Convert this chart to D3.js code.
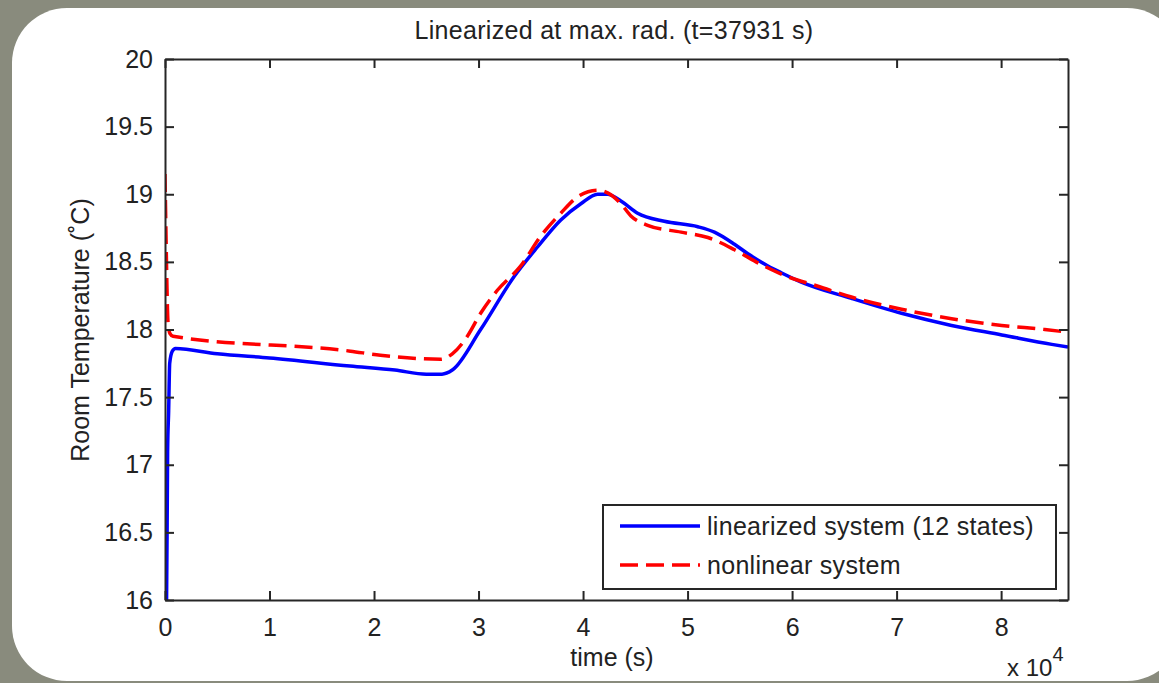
<!DOCTYPE html>
<html>
<head>
<meta charset="utf-8">
<script src="https://cdn.jsdelivr.net/npm/d3@7"></script>
<style>
  body { margin: 0; background: #898b7d; }
  svg { display: block; }
  text { font-family: "Liberation Sans", Arial, sans-serif; fill: #222; }
</style>
</head>
<body>
<svg id="chart"></svg>
<script>
// time (s) / temperature (degC)
const linTime = [0, 150, 250, 350, 450, 700, 1000, 5000, 10000, 17700, 22000, 25000, 26500, 27490, 30200, 33390, 35640, 37870, 39790, 41390, 42350, 43620, 45220, 47780, 50980, 52570, 54490, 55770, 57690, 58960, 60880, 65680, 70470, 75260, 80060, 84850, 86400];
const linTemp = [16.0, 16.0, 17.1, 17.4, 17.75, 17.84, 17.86, 17.82, 17.79, 17.73, 17.70, 17.67, 17.67, 17.70, 18.00, 18.39, 18.61, 18.81, 18.93, 19.00, 19.00, 18.95, 18.86, 18.80, 18.76, 18.72, 18.63, 18.56, 18.47, 18.42, 18.35, 18.23, 18.12, 18.03, 17.96, 17.89, 17.87];

const nlTime = [0, 96, 192, 290, 480, 770, 17740, 20610, 26370, 27490, 28930, 30200, 31800, 34040, 35950, 37870, 39470, 41390, 42350, 43620, 44580, 46180, 49380, 51940, 54490, 57050, 59610, 62480, 65680, 70470, 75260, 80060, 84180, 86400];
const nlTemp = [19.15, 18.7, 18.3, 18.05, 17.97, 17.95, 17.84, 17.81, 17.78, 17.82, 17.95, 18.12, 18.29, 18.47, 18.69, 18.86, 18.98, 19.03, 19.01, 18.93, 18.84, 18.77, 18.72, 18.68, 18.59, 18.48, 18.39, 18.32, 18.24, 18.15, 18.08, 18.03, 18.00, 17.98];

const xTicks = [0, 10000, 20000, 30000, 40000, 50000, 60000, 70000, 80000];
const yTicks = [16, 16.5, 17, 17.5, 18, 18.5, 19, 19.5, 20];
const seriesNames = ["linearized system (12 states)", "nonlinear system"];

const width = 1159;
const height = 683;
const marginLeft = 165;
const marginRight = 91;
const marginTop = 59;
const marginBottom = 83;
const axisColor = "#262626";

const svg = d3.select("#chart")
    .attr("width", width)
    .attr("height", height);

// white card
svg.append("rect")
    .attr("x", 12).attr("y", 8)
    .attr("width", 1170).attr("height", 673)
    .attr("rx", 55).attr("ry", 55)
    .attr("fill", "#fff");

const x = d3.scaleLinear()
    .domain([0, 86400])
    .range([marginLeft, width - marginRight]);

const y = d3.scaleLinear()
    .domain([16, 20])
    .range([height - marginBottom, marginTop]);

svg.append("defs").append("clipPath").attr("id", "clip")
  .append("rect")
    .attr("x", marginLeft).attr("y", marginTop)
    .attr("width", width - marginLeft - marginRight)
    .attr("height", height - marginTop - marginBottom);

const line = d3.line()
    .x(d => x(d[0]))
    .y(d => y(d[1]))
    .curve(d3.curveMonotoneX);

const linData = d3.zip(linTime, linTemp);
const nlData = d3.zip(nlTime, nlTemp);

const plot = svg.append("g").attr("clip-path", "url(#clip)");

plot.append("path")
    .datum(linData)
    .attr("fill", "none")
    .attr("stroke", "#0000ff")
    .attr("stroke-width", 3.5)
    .attr("d", line);

plot.append("path")
    .datum(nlData)
    .attr("fill", "none")
    .attr("stroke", "#ff0000")
    .attr("stroke-width", 3.5)
    .attr("stroke-dasharray", "18,8")
    .attr("d", line);

// axes, ticks pointing inward, box on all four sides
const tickLen = 9;
const fmtX = d => d / 10000;

function styleAxis(g) {
    g.selectAll(".domain").attr("stroke", axisColor).attr("stroke-width", 2);
    g.selectAll(".tick line").attr("stroke", axisColor).attr("stroke-width", 2);
    g.selectAll(".tick text").attr("font-size", 25).attr("fill", "#222");
}

svg.append("g")
    .attr("transform", `translate(0,${height - marginBottom})`)
    .call(d3.axisBottom(x).tickValues(xTicks).tickFormat(fmtX)
        .tickSizeInner(-tickLen).tickSizeOuter(0).tickPadding(tickLen + 9))
    .call(styleAxis);

svg.append("g")
    .attr("transform", `translate(0,${marginTop})`)
    .call(d3.axisTop(x).tickValues(xTicks).tickFormat("")
        .tickSizeInner(-tickLen).tickSizeOuter(0))
    .call(styleAxis);

svg.append("g")
    .attr("transform", `translate(${marginLeft},0)`)
    .call(d3.axisLeft(y).tickValues(yTicks).tickFormat(d3.format("~g"))
        .tickSizeInner(-tickLen).tickSizeOuter(0).tickPadding(tickLen + 3))
    .call(styleAxis);

svg.append("g")
    .attr("transform", `translate(${width - marginRight},0)`)
    .call(d3.axisRight(y).tickValues(yTicks).tickFormat("")
        .tickSizeInner(-tickLen).tickSizeOuter(0))
    .call(styleAxis);

// labels
svg.append("text")
    .attr("x", 614).attr("y", 39)
    .attr("text-anchor", "middle")
    .attr("font-size", 25)
    .attr("letter-spacing", 0.3)
    .text("Linearized at max. rad. (t=37931 s)");

svg.append("text")
    .attr("x", 612).attr("y", 666)
    .attr("text-anchor", "middle")
    .attr("font-size", 25)
    .text("time (s)");

svg.append("text")
    .attr("transform", "translate(89,330) rotate(-90)")
    .attr("text-anchor", "middle")
    .attr("font-size", 25)
    .text("Room Temperature (˚C)");

const expo = svg.append("text")
    .attr("x", 1007).attr("y", 676)
    .attr("font-size", 24);
expo.append("tspan").text("x 10");
expo.append("tspan").attr("dy", -15).attr("font-size", 20).text("4");

// legend
const legend = svg.append("g");
legend.append("rect")
    .attr("x", 603).attr("y", 505)
    .attr("width", 453).attr("height", 84)
    .attr("fill", "#fff")
    .attr("stroke", axisColor)
    .attr("stroke-width", 2);

const legendColors = ["#0000ff", "#ff0000"];
const legendDash = [null, "18,8"];
seriesNames.forEach((name, i) => {
    const ly = 526 + i * 39;
    legend.append("line")
        .attr("x1", 620).attr("x2", 700)
        .attr("y1", ly).attr("y2", ly)
        .attr("stroke", legendColors[i])
        .attr("stroke-width", 3.5)
        .attr("stroke-dasharray", legendDash[i]);
    legend.append("text")
        .attr("x", 707).attr("y", ly + 9)
        .attr("font-size", 25)
        .attr("letter-spacing", 0.3)
        .text(name);
});
</script>
</body>
</html>
